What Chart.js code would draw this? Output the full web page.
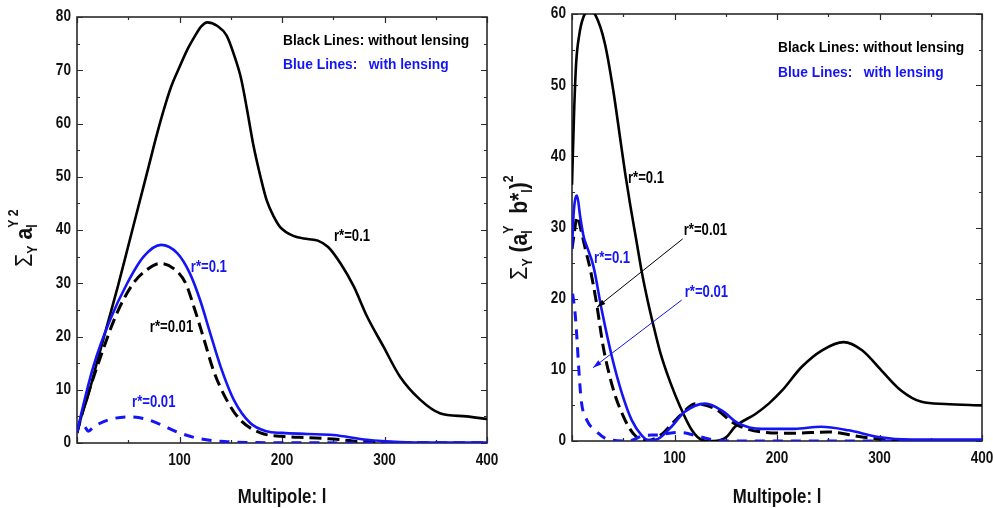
<!DOCTYPE html>
<html>
<head>
<meta charset="utf-8">
<script src="https://cdn.jsdelivr.net/npm/chart.js@4.4.1/dist/chart.umd.min.js"></script>
<style>
  html, body { margin: 0; padding: 0; background: #fff; }
  .panel { position: absolute; top: 0; height: 508px; }
  #leftBox { left: 0; width: 510px; }
  #rightBox { left: 495px; width: 498px; }
</style>
</head>
<body>
<div id="leftBox" class="panel"><canvas id="leftChart"></canvas></div>
<div id="rightBox" class="panel"><canvas id="rightChart"></canvas></div>
<script>
const BLUE = '#1414f5';
const FONT = "'Liberation Sans', Arial, sans-serif";

// ---- left panel: sum_Y (a_l^Y)^2 ----
const leftBlackSolidL = [0, 5, 10, 20, 30, 40, 50, 60, 70, 78, 85, 92, 100, 108, 115, 121, 127, 137, 146, 153, 160, 166, 172, 179, 185, 192, 198, 211, 225, 235, 245, 257, 270, 283, 299, 315, 335, 354, 380, 400];
const leftBlackSolidV = [1.9, 5.5, 8.4, 15.5, 22.5, 29.5, 37, 44.5, 52, 58, 62.8, 67, 70.6, 74, 76.4, 78.2, 79, 78.3, 76.5, 73, 68.5, 62.5, 56, 50, 45.6, 42.5, 40.6, 38.9, 38.3, 38, 36.8, 33.75, 29.4, 23.75, 18.1, 12.5, 8.1, 5.6, 5, 4.5];
const leftBlueSolidL = [0, 5, 16, 32, 49, 65, 82, 98, 110, 120, 130, 140, 153, 169, 185, 200, 225, 250, 283, 315, 350, 400];
const leftBlueSolidV = [1.9, 6.2, 14.4, 23, 30, 35, 37.2, 35.6, 31.9, 26.9, 20.6, 14.4, 8.1, 3.75, 2.2, 1.9, 1.7, 1.5, 0.6, 0.2, 0.1, 0.1];
const leftBlackDashL = [0, 6, 23, 39, 55, 68, 81, 94, 106, 114, 124, 133, 146, 159, 179, 200, 225, 250, 276, 315, 400];
const leftBlackDashV = [1.9, 6.2, 16.2, 24.4, 30, 32.5, 33.7, 32.8, 30, 25.6, 19.4, 13.7, 8.1, 4.4, 1.9, 1.25, 1.0, 0.75, 0.3, 0.06, 0];
const leftBlueDashL = [8, 11, 16, 30, 50, 65, 80, 100, 120, 146, 170, 200, 400];
const leftBlueDashV = [3.0, 2.2, 3.0, 4.3, 4.9, 4.6, 3.6, 1.9, 0.8, 0.25, 0.1, 0.05, 0];

// ---- right panel: sum_Y (a_l^Y b*_l)^2 ----
const rightBlackSolidL = [0, 2, 4, 7, 11, 17, 23, 32, 40, 48, 52, 57, 63, 68, 74, 79, 86, 96, 105, 117, 127, 138, 151, 159, 179, 192, 205, 224, 244, 265, 283, 302, 321, 341, 364, 400];
const rightBlackSolidV = [36, 46, 53, 57, 59.5, 60.5, 59.8, 55.9, 49.5, 41.5, 37.5, 33, 28, 23.8, 19.6, 16.5, 12.5, 8.2, 5, 1.5, 0.15, 0, 0.6, 2, 3.8, 5.25, 7.1, 10.4, 12.75, 13.9, 12.75, 9.9, 7.1, 5.5, 5.2, 5.0];
const rightBlueSolidL = [0, 1.6, 4.9, 8, 11.4, 14.6, 21, 29, 39, 48.7, 58.4, 68, 75, 84, 97, 110, 130, 146, 162, 185, 217, 243, 270, 299, 331, 400];
const rightBlueSolidV = [27, 32, 34.5, 31.5, 28.7, 27.3, 24.5, 18.4, 11.8, 6.7, 2.9, 0.8, 0.1, 0.3, 2, 4.1, 5.25, 4.3, 2.5, 1.7, 1.7, 2, 1.5, 0.56, 0.2, 0.2];
const rightBlackDashL = [0, 2, 5, 9, 13, 18, 24, 30.5, 37, 43, 50, 56, 62, 68, 74, 88, 98, 107, 120, 140, 159, 185, 217, 250, 283, 315, 400];
const rightBlackDashV = [27, 29, 31.5, 29.5, 27, 24, 19.3, 13.2, 9, 6, 3.5, 1.8, 0.7, 0.15, 0.1, 1, 2.5, 3.8, 5.25, 4.5, 2.4, 1.27, 1.1, 1.27, 0.56, 0.1, 0];
const rightBlueDashL = [0.6, 3, 5, 6.5, 9, 14.6, 22.7, 35.7, 55, 71.4, 82.6, 95, 105, 125, 140, 160, 400];
const rightBlueDashV = [20.7, 18, 14, 10.4, 5.7, 2.9, 1.5, 0.2, 0, 0.8, 0.84, 1.1, 1.2, 0.6, 0.1, 0, 0];

const xTicks = [100, 200, 300, 400];

function pts(L, V) {
    return L.map((l, i) => ({x: l, y: V[i]}));
}

function line(L, V, color, dash, width) {
    return {
        data: pts(L, V),
        borderColor: color,
        borderWidth: width,
        borderDash: dash,
        pointRadius: 0,
        fill: false,
        cubicInterpolationMode: 'monotone'
    };
}

// narrow text: the original uses a condensed face, so squeeze it
function narrow(ctx, text, px, py, sx, align) {
    ctx.save();
    ctx.translate(px, py);
    ctx.scale(sx, 1);
    ctx.textAlign = align;
    ctx.fillText(text, 0, 0);
    ctx.restore();
}

// frame, inward ticks, tick labels, texts, arrows and rotated y title
const overlay = {
    id: 'overlay',
    beforeDatasetsDraw(chart, args, o) {
        const {ctx, chartArea: a, scales: {x, y}} = chart;
        ctx.save();
        ctx.strokeStyle = '#2a2a2a';
        ctx.lineWidth = 1.6;
        ctx.strokeRect(a.left, a.top, a.right - a.left, a.bottom - a.top);
        ctx.lineWidth = 1.2;
        ctx.beginPath();
        for (let v = x.min; v <= x.max; v += 50) {
            const px = Math.round(x.getPixelForValue(v)) + 0.5;
            const len = v % 100 === 0 ? 6 : 3;
            ctx.moveTo(px, a.bottom); ctx.lineTo(px, a.bottom - len);
            ctx.moveTo(px, a.top); ctx.lineTo(px, a.top + len);
        }
        for (let v = y.min; v <= y.max; v += o.yStep / 2) {
            const py = Math.round(y.getPixelForValue(v)) + 0.5;
            const len = v % o.yStep === 0 ? 6 : 3;
            ctx.moveTo(a.left, py); ctx.lineTo(a.left + len, py);
            ctx.moveTo(a.right, py); ctx.lineTo(a.right - len, py);
        }
        ctx.stroke();

        // tick labels
        ctx.fillStyle = '#111';
        ctx.font = 'bold 16px ' + FONT;
        ctx.textBaseline = 'middle';
        x.ticks.forEach(t => narrow(ctx, String(t.value), x.getPixelForValue(t.value), a.bottom + 18, 0.85, 'center'));
        y.ticks.forEach(t => narrow(ctx, String(t.value), a.left - 6, y.getPixelForValue(t.value), 0.85, 'right'));
        ctx.restore();
    },
    afterDraw(chart, args, o) {
        const {ctx, chartArea: a, scales: {x, y}} = chart;
        ctx.save();
        ctx.textBaseline = 'middle';
        o.texts.forEach(t => {
            ctx.fillStyle = t.color;
            ctx.font = 'bold ' + t.size + 'px ' + FONT;
            narrow(ctx, t.text, x.getPixelForValue(t.x), y.getPixelForValue(t.y), t.sx, 'left');
        });
        o.arrows.forEach(ar => {
            const x1 = x.getPixelForValue(ar.x1), y1 = y.getPixelForValue(ar.y1);
            const x2 = x.getPixelForValue(ar.x2), y2 = y.getPixelForValue(ar.y2);
            ctx.strokeStyle = ar.color;
            ctx.fillStyle = ar.color;
            ctx.lineWidth = 1;
            ctx.beginPath(); ctx.moveTo(x1, y1); ctx.lineTo(x2, y2); ctx.stroke();
            const ang = Math.atan2(y2 - y1, x2 - x1);
            ctx.beginPath();
            ctx.moveTo(x2, y2);
            ctx.lineTo(x2 - 9 * Math.cos(ang - 0.3), y2 - 9 * Math.sin(ang - 0.3));
            ctx.lineTo(x2 - 9 * Math.cos(ang + 0.3), y2 - 9 * Math.sin(ang + 0.3));
            ctx.closePath(); ctx.fill();
        });
        // x title
        ctx.fillStyle = '#111';
        ctx.font = 'bold 21px ' + FONT;
        narrow(ctx, 'Multipole: l', (a.left + a.right) / 2, 497, 0.8, 'center');
        // y title, rotated, built from pieces
        ctx.textAlign = 'left';
        ctx.textBaseline = 'alphabetic';
        const sq = 0.88;
        const widthOf = p => { ctx.font = (p.bold ? 'bold ' : '') + p.size + 'px ' + FONT; return ctx.measureText(p.t).width; };
        let total = 0;
        o.yTitle.forEach(p => { if (!p.stack) total += widthOf(p); });
        ctx.translate(o.yTitleX, (a.top + a.bottom) / 2 + o.yTitleShift);
        ctx.rotate(-Math.PI / 2);
        ctx.scale(sq, 1);
        let cx = -total / 2;
        o.yTitle.forEach(p => {
            const w = widthOf(p);
            ctx.fillText(p.t, cx, 8 + p.dy);
            if (!p.stack) cx += w;
        });
        ctx.restore();
    }
};

function makeChart(id, datasets, yMax, yStep, padRight, padTop, xHeight, extra) {
    return new Chart(document.getElementById(id), {
        type: 'line',
        data: {datasets: datasets},
        options: {
            responsive: true,
            maintainAspectRatio: false,
            animation: false,
            layout: {padding: {left: 0, right: padRight, top: padTop, bottom: 0}},
            plugins: {
                legend: {display: false},
                tooltip: {enabled: false},
                overlay: Object.assign({yStep: yStep}, extra)
            },
            scales: {
                x: {
                    type: 'linear', min: 0, max: 400,
                    grid: {display: false, drawTicks: false},
                    border: {display: false},
                    afterBuildTicks: s => { s.ticks = xTicks.map(v => ({value: v})); },
                    ticks: {display: false},
                    afterFit: s => { s.height = xHeight; s.paddingLeft = 0; s.paddingRight = 0; }
                },
                y: {
                    min: 0, max: yMax,
                    grid: {display: false, drawTicks: false},
                    border: {display: false},
                    ticks: {display: false, stepSize: yStep},
                    afterFit: s => { s.width = 77; s.paddingTop = 0; s.paddingBottom = 0; }
                }
            }
        },
        plugins: [overlay]
    });
}

makeChart('leftChart', [
    line(leftBlueSolidL, leftBlueSolidV, BLUE, [], 2.6),
    line(leftBlueDashL, leftBlueDashV, BLUE, [10, 8], 3),
    line(leftBlackDashL, leftBlackDashV, '#000', [12, 6], 3),
    line(leftBlackSolidL, leftBlackSolidV, '#000', [], 2.6)
], 80, 10, 23, 17, 65, {
    texts: [
        {text: 'Black Lines: without lensing', x: 201, y: 75.5, color: '#000', size: 15.5, sx: 0.89},
        {text: 'Blue Lines:   with lensing', x: 201, y: 71, color: BLUE, size: 15.5, sx: 0.89},
        {text: 'r*=0.1', x: 250.7, y: 38.7, color: '#000', size: 16, sx: 0.82},
        {text: 'r*=0.1', x: 111, y: 32.9, color: BLUE, size: 16, sx: 0.82},
        {text: 'r*=0.01', x: 71, y: 21.6, color: '#000', size: 16, sx: 0.82},
        {text: 'r*=0.01', x: 53.7, y: 7.5, color: BLUE, size: 16, sx: 0.82}
    ],
    arrows: [],
    yTitleX: 24,
    yTitleShift: 8,
    yTitle: [
        {t: 'Σ', size: 24, bold: false, dy: 0},
        {t: 'Y', size: 14, bold: true, dy: 5},
        {t: ' a', size: 24, bold: true, dy: 0},
        {t: 'l', size: 14, bold: true, dy: 5, stack: true},
        {t: 'Y 2', size: 14, bold: true, dy: -14}
    ]
});

makeChart('rightChart', [
    line(rightBlueSolidL, rightBlueSolidV, BLUE, [], 2.6),
    line(rightBlueDashL, rightBlueDashV, BLUE, [10, 8], 3),
    line(rightBlackDashL, rightBlackDashV, '#000', [12, 6], 3),
    line(rightBlackSolidL, rightBlackSolidV, '#000', [], 2.6)
], 60, 10, 11, 14, 67, {
    texts: [
        {text: 'Black Lines: without lensing', x: 201, y: 55.2, color: '#000', size: 15.5, sx: 0.89},
        {text: 'Blue Lines:   with lensing', x: 201, y: 51.8, color: BLUE, size: 15.5, sx: 0.89},
        {text: 'r*=0.1', x: 54.6, y: 36.9, color: '#000', size: 16, sx: 0.82},
        {text: 'r*=0.01', x: 109, y: 29.5, color: '#000', size: 16, sx: 0.82},
        {text: 'r*=0.1', x: 21.5, y: 25.6, color: BLUE, size: 16, sx: 0.82},
        {text: 'r*=0.01', x: 110, y: 20.8, color: BLUE, size: 16, sx: 0.82}
    ],
    arrows: [
        {x1: 108, y1: 28.4, x2: 24.4, y2: 18.8, color: '#000'},
        {x1: 107, y1: 19.8, x2: 20.5, y2: 10.3, color: BLUE}
    ],
    yTitleX: 24,
    yTitleShift: 0,
    yTitle: [
        {t: 'Σ', size: 24, bold: false, dy: 0},
        {t: 'Y', size: 14, bold: true, dy: 5},
        {t: ' (a', size: 24, bold: true, dy: 0},
        {t: 'l', size: 14, bold: true, dy: 5, stack: true},
        {t: 'Y', size: 14, bold: true, dy: -14},
        {t: '  b*', size: 24, bold: true, dy: 0},
        {t: 'l', size: 14, bold: true, dy: 5},
        {t: ')', size: 24, bold: true, dy: 0},
        {t: '2', size: 14, bold: true, dy: -14}
    ]
});
</script>
</body>
</html>
